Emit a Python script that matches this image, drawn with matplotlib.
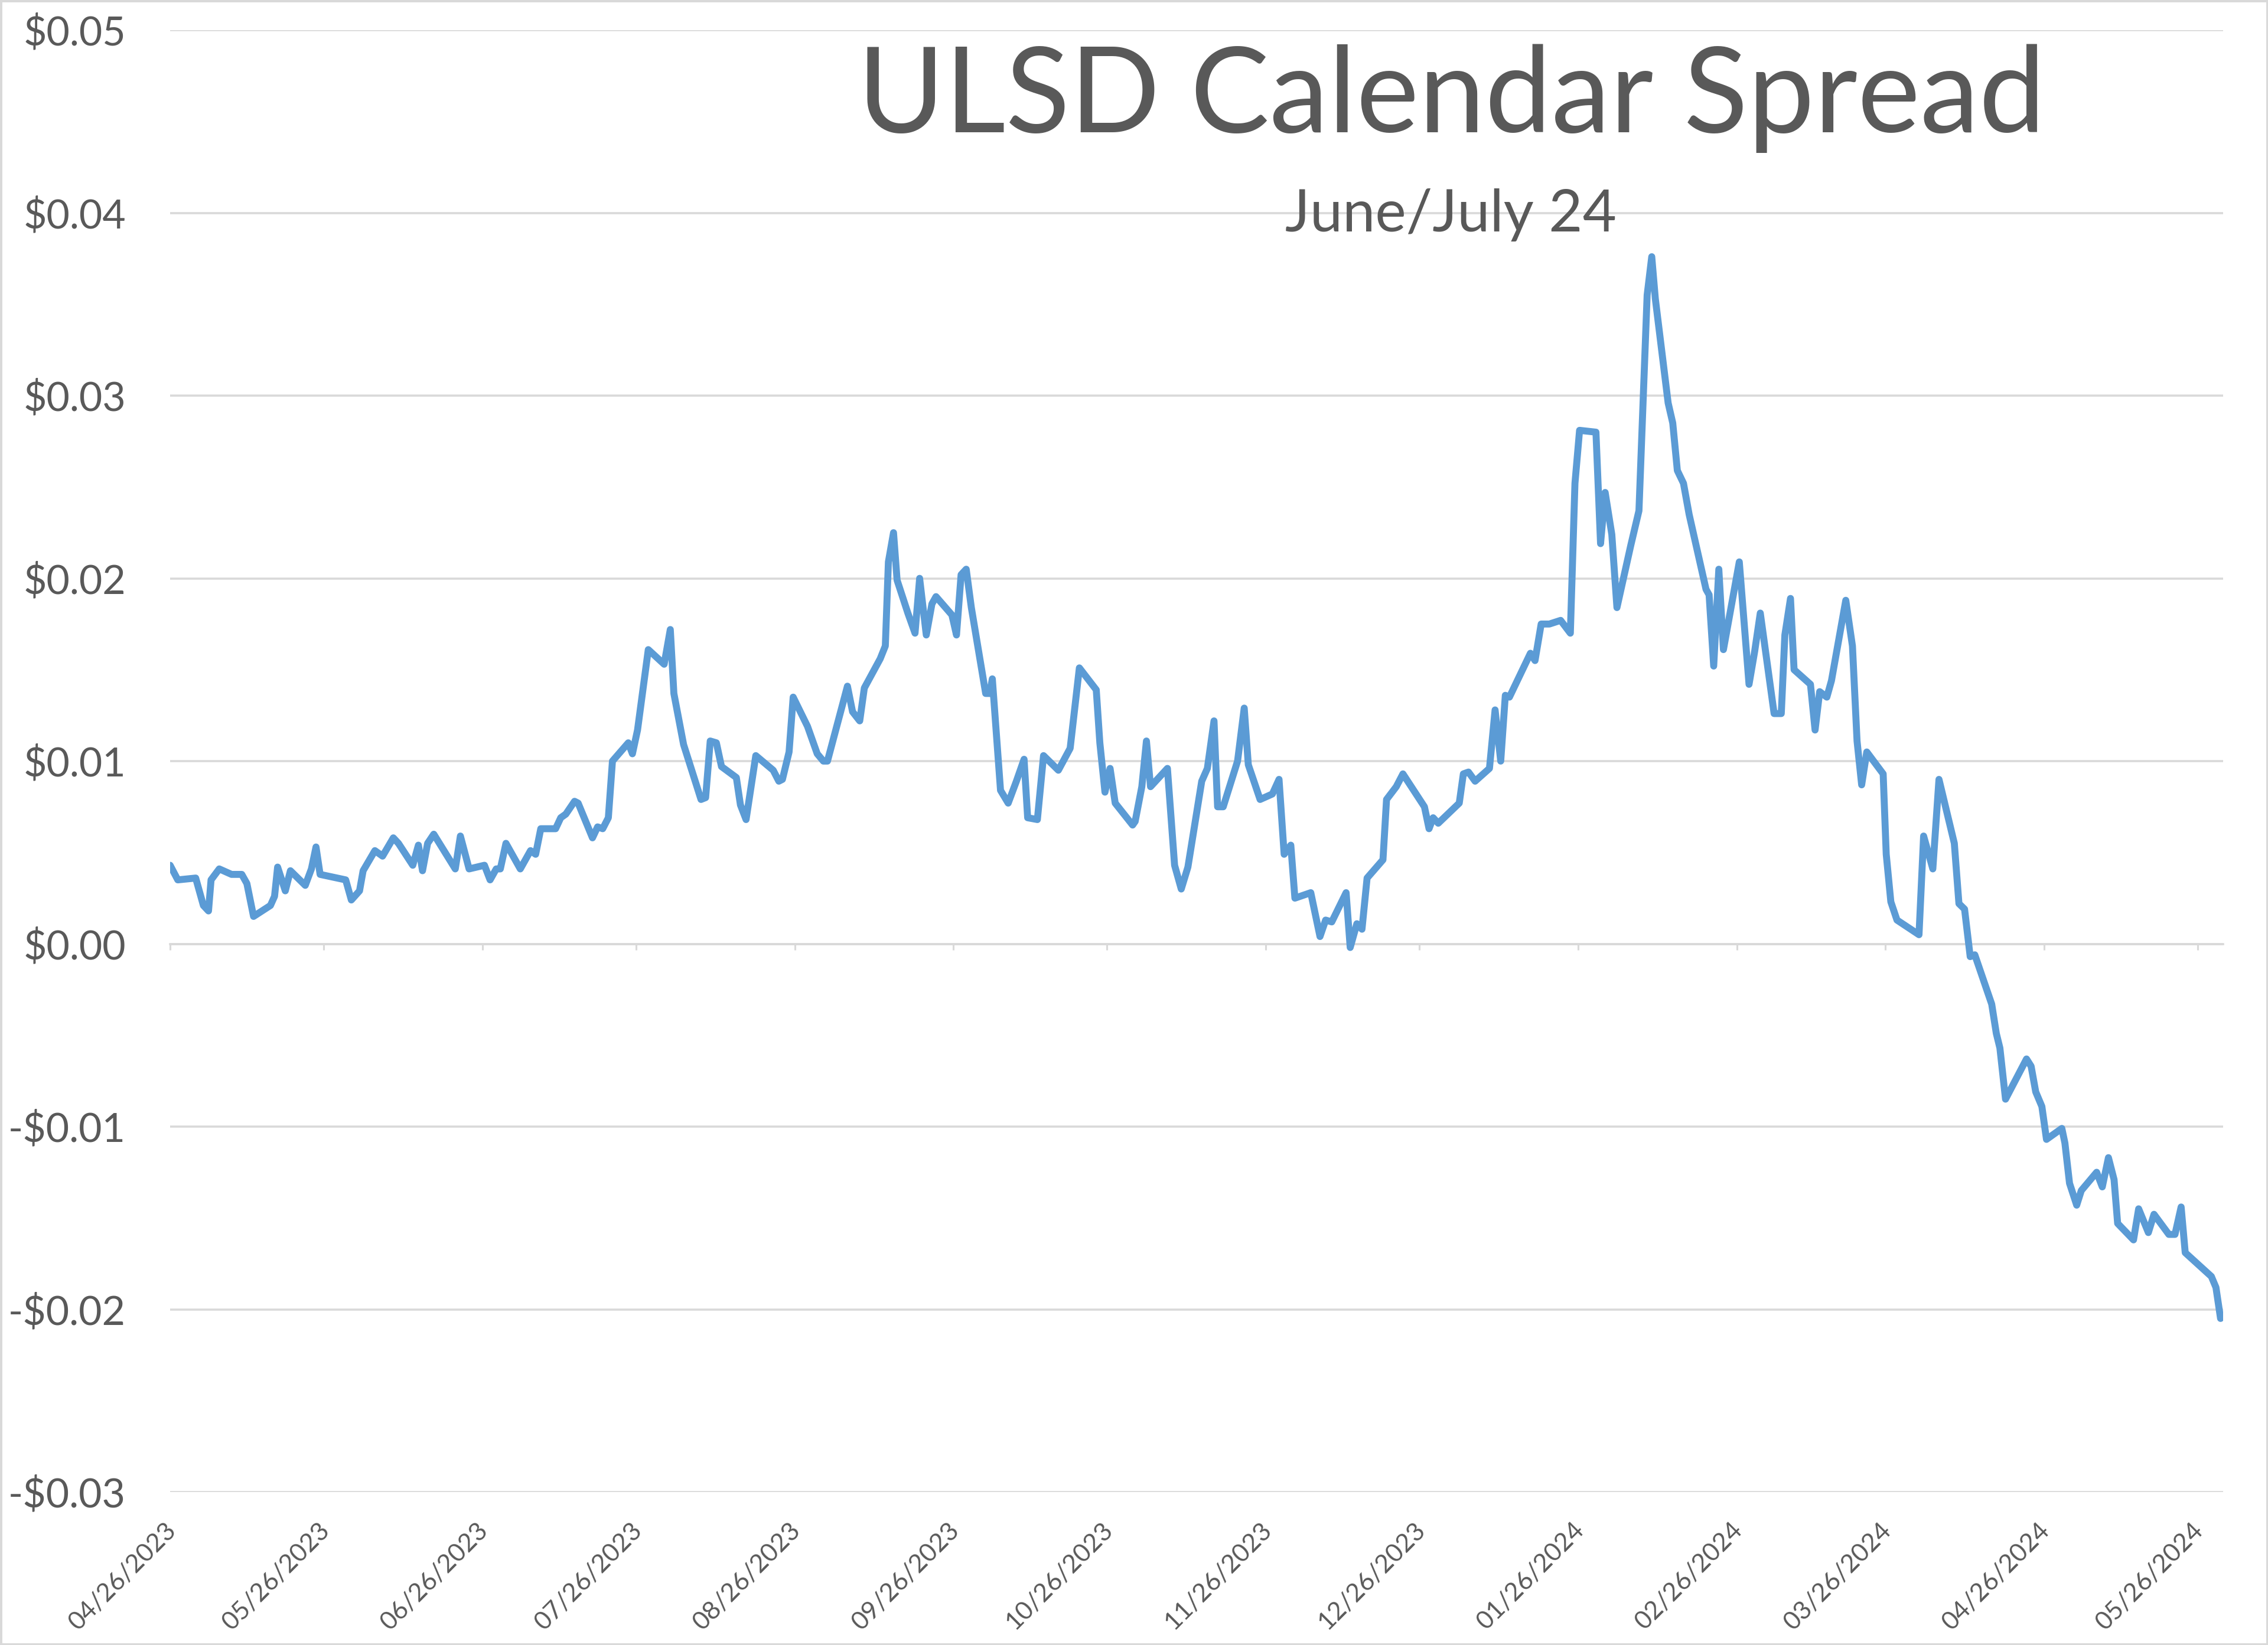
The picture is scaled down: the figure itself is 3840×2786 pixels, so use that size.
import matplotlib
matplotlib.use("Agg")
import matplotlib.pyplot as plt
import matplotlib.dates as mdates
import matplotlib.transforms as mtransforms
from matplotlib.ticker import FuncFormatter
import pandas as pd

# ---------------- data ----------------
TITLE = "ULSD Calendar Spread"
SUBTITLE = "June/July 24"
START_DATE = "2023-04-26"
END_DATE = "2024-05-31"

# days elapsed since START_DATE for each vertex of the line
day_offset = [
    0, 1.5, 5, 6.5, 7.5, 8, 9.6, 12, 14, 15, 16.3, 19.6, 20.4, 21, 22.5, 23.5,
    26.4, 27.6, 28.5, 29.3, 34.3, 35.4, 37, 37.7, 40, 41.5, 43.6, 44.6, 47.4,
    48.5, 49.3, 50.3, 51.5, 55.7, 56.7, 58.4, 61.4, 62.5, 63.7, 64.5, 65.6,
    68.4, 70.4, 71.4, 72.4, 75.3, 76.3, 77.3, 79, 79.7, 82.5, 83.5, 84.5, 85.6,
    86.4, 89.5, 90.3, 91.3, 93.4, 96.5, 97.7, 98.4, 100.3, 103.7, 104.6, 105.5,
    106.7, 107.7, 110.6, 111.4, 112.5, 114.4, 117.8, 118.9, 119.6, 120.9, 121.7,
    124.5, 126.4, 127.6, 128.4, 132.3, 133.3, 134.7, 135.6, 138.7, 139.7, 140.3,
    141.3, 142, 144.1, 145.5, 146.4, 147.7, 148.8, 149.6, 152.7, 153.6, 154.5,
    155.5, 156.5, 159.3, 160.1, 160.6, 162.2, 163.7, 165.3, 166.8, 167.5, 169.4,
    170.6, 173.5, 175.8, 177.6, 180.9, 181.6, 182.6, 183.6, 184.6, 188, 188.5,
    189.8, 190.7, 191.5, 194.8, 196.2, 197.5, 198.8, 201.5, 202.6, 203.9, 204.6,
    205.7, 208.5, 209.8, 210.6, 212.9, 215.3, 216.6, 217.6, 218.9, 219.7, 222.8,
    224.6, 225.7, 226.9, 229.7, 230.5, 231.8, 232.8, 233.8, 236.9, 237.6, 239.5,
    240.8, 245, 245.9, 246.7, 247.7, 251.8, 252.6, 253.6, 254.9, 257.7, 258.8,
    259.9, 260.8, 261.6, 265.7, 266.6, 267.8, 269.4, 271.6, 273.5, 274.4, 275.3,
    278.5, 279.4, 280.3, 281.6, 282.6, 285.3, 286.9, 288.5, 289.4, 290.1, 292.6,
    293.5, 294.4, 295.6, 296.7, 300, 300.6, 301.5, 302.5, 303.4, 306.5, 308.4,
    309.5, 310.6, 313.3, 314.7, 315.4, 316.5, 317.2, 320.4, 321.3, 322.2, 323.6,
    324.5, 327.3, 328.6, 329.5, 330.4, 331.4, 334.6, 335.2, 336.1, 337.3, 341.6,
    342.5, 344.3, 345.5, 348.5, 349.4, 350.5, 351.6, 352.5, 355.8, 356.7, 357.4,
    358.5, 362.6, 363.5, 364.4, 365.6, 366.5, 369.5, 370.1, 371, 372.4, 373.3,
    376.3, 377.4, 378.6, 379.7, 380.4, 383.5, 384.5, 386.4, 387.5, 390.4, 391.6,
    392.8, 393.6, 398.7, 399.6, 400.5,
]

spread = [
    0.0043, 0.0035, 0.0036, 0.0021, 0.0018, 0.0035, 0.0041, 0.0038, 0.0038, 0.0033,
    0.0015, 0.0021, 0.0026, 0.0042, 0.0029, 0.0040, 0.0032, 0.0041, 0.0053, 0.0038,
    0.0035, 0.0024, 0.0029, 0.0040, 0.0051, 0.0048, 0.0058, 0.0055, 0.0043, 0.0054,
    0.0040, 0.0055, 0.0060, 0.0041, 0.0059, 0.0041, 0.0043, 0.0035, 0.0041, 0.0041,
    0.0055, 0.0041, 0.0051, 0.0049, 0.0063, 0.0063, 0.0069, 0.0071, 0.0078, 0.0077,
    0.0058, 0.0064, 0.0063, 0.0069, 0.0100, 0.0110, 0.0104, 0.0117, 0.0161, 0.0153,
    0.0172, 0.0137, 0.0109, 0.0079, 0.0080, 0.0111, 0.0110, 0.0097, 0.0091, 0.0076,
    0.0068, 0.0103, 0.0095, 0.0089, 0.0090, 0.0105, 0.0135, 0.0119, 0.0104, 0.0100,
    0.0100, 0.0141, 0.0127, 0.0122, 0.0140, 0.0156, 0.0163, 0.0209, 0.0225, 0.0199,
    0.0181, 0.0170, 0.0200, 0.0169, 0.0186, 0.0190, 0.0180, 0.0169, 0.0202, 0.0205,
    0.0184, 0.0137, 0.0137, 0.0145, 0.0084, 0.0077, 0.0089, 0.0101, 0.0069, 0.0068,
    0.0103, 0.0095, 0.0107, 0.0151, 0.0139, 0.0110, 0.0083, 0.0096, 0.0077, 0.0065,
    0.0067, 0.0086, 0.0111, 0.0086, 0.0096, 0.0043, 0.0030, 0.0042, 0.0089, 0.0096,
    0.0122, 0.0075, 0.0075, 0.0100, 0.0129, 0.0098, 0.0079, 0.0082, 0.0090, 0.0049,
    0.0054, 0.0025, 0.0028, 0.0004, 0.0013, 0.0012, 0.0028, -0.0002, 0.0011, 0.0008,
    0.0036, 0.0046, 0.0079, 0.0086, 0.0093, 0.0075, 0.0063, 0.0069, 0.0066, 0.0077,
    0.0093, 0.0094, 0.0089, 0.0096, 0.0128, 0.0100, 0.0136, 0.0135, 0.0159, 0.0155,
    0.0175, 0.0175, 0.0177, 0.0170, 0.0252, 0.0281, 0.0280, 0.0219, 0.0247, 0.0224,
    0.0184, 0.0218, 0.0237, 0.0355, 0.0376, 0.0353, 0.0296, 0.0285, 0.0259, 0.0252,
    0.0235, 0.0194, 0.0191, 0.0152, 0.0205, 0.0161, 0.0209, 0.0142, 0.0160, 0.0181,
    0.0126, 0.0126, 0.0169, 0.0189, 0.0150, 0.0142, 0.0117, 0.0138, 0.0135, 0.0144,
    0.0188, 0.0163, 0.0111, 0.0087, 0.0105, 0.0093, 0.0049, 0.0023, 0.0013, 0.0005,
    0.0059, 0.0041, 0.0090, 0.0055, 0.0022, 0.0019, -0.0007, -0.0006, -0.0033, -0.0049,
    -0.0057, -0.0085, -0.0063, -0.0067, -0.0081, -0.0089, -0.0107, -0.0101, -0.0109, -0.0131,
    -0.0143, -0.0135, -0.0125, -0.0133, -0.0117, -0.0129, -0.0153, -0.0162, -0.0145, -0.0158,
    -0.0148, -0.0159, -0.0159, -0.0144, -0.0169, -0.0182, -0.0188, -0.0205,
]

tick_dates = [
    "2023-04-26", "2023-05-26", "2023-06-26", "2023-07-26", "2023-08-26",
    "2023-09-26", "2023-10-26", "2023-11-26", "2023-12-26", "2024-01-26",
    "2024-02-26", "2024-03-26", "2024-04-26", "2024-05-26",
]
y_ticks = [-0.03, -0.02, -0.01, 0.00, 0.01, 0.02, 0.03, 0.04, 0.05]

# ---------------- style ----------------
plt.rcParams["font.family"] = ["Lato", "DejaVu Sans"]
TEXT_COLOR = "#595959"
GRID_COLOR = "#d9d9d9"
LINE_COLOR = "#5B9BD5"

W, H = 3840, 2786
fig = plt.figure(figsize=(W / 100, H / 100), dpi=100)
fig.patch.set_facecolor("white")
fig.patch.set_edgecolor(GRID_COLOR)
fig.patch.set_linewidth(5)

left, right, top, bottom = 288, 3764, 51, 2527
ax = fig.add_axes([left / W, (H - bottom) / H, (right - left) / W, (bottom - top) / H])

dates = pd.Timestamp(START_DATE) + pd.to_timedelta(day_offset, unit="D")
ax.plot(dates, spread, color=LINE_COLOR, lw=8.5, solid_joinstyle="round",
        solid_capstyle="round", zorder=3)

ax.set_xlim(pd.Timestamp(START_DATE), pd.Timestamp(END_DATE))
ax.set_ylim(y_ticks[0], y_ticks[-1])
ax.set_yticks(y_ticks)


def money(v, pos=None):
    v = round(v, 4)
    return f"-${abs(v):.2f}" if v < 0 else f"${v:.2f}"


ax.yaxis.set_major_formatter(FuncFormatter(money))
ax.grid(axis="y", color=GRID_COLOR, lw=2.6)
ax.grid(axis="x", visible=False)
ax.set_axisbelow(True)
for s in ax.spines.values():
    s.set_visible(False)
ax.tick_params(axis="y", length=0, pad=54, labelsize=49, labelcolor=TEXT_COLOR)

ticks = pd.to_datetime(tick_dates)
tick_nums = mdates.date2num(ticks)
ax.set_xticks(tick_nums)
ax.set_xticklabels([t.strftime("%m/%d/%Y") for t in ticks], rotation=45,
                   ha="right", va="top")
ax.tick_params(axis="x", length=0, pad=32, labelsize=31, labelcolor=TEXT_COLOR)
shift = mtransforms.ScaledTranslation(0.17, 0, fig.dpi_scale_trans)
for lbl in ax.get_xticklabels():
    lbl.set_transform(lbl.get_transform() + shift)

# horizontal axis line at zero with small tick marks
sec = ax.secondary_xaxis(0.0, transform=ax.transData)
sec.set_xticks(tick_nums)
sec.tick_params(axis="x", length=7, width=2.2, color=GRID_COLOR,
                labelbottom=False, labeltop=False)
for s in sec.spines.values():
    s.set_color(GRID_COLOR)
    s.set_linewidth(2.6)

# titles (auto-sized to match measured widths)
fig.canvas.draw()
renderer = fig.canvas.get_renderer()
t1 = fig.text(2457 / W, (H - 224) / H, TITLE, ha="center", va="baseline",
              fontsize=100, color=TEXT_COLOR)
w1 = t1.get_window_extent(renderer).width
t1.set_fontsize(100 * 2012 / w1)
t2 = fig.text(2457 / W, (H - 392) / H, SUBTITLE, ha="center", va="baseline",
              fontsize=40, color=TEXT_COLOR)
w2 = t2.get_window_extent(renderer).width
t2.set_fontsize(40 * 560 / w2)

fig.savefig("out.png", dpi=100, facecolor="white", edgecolor=GRID_COLOR)
